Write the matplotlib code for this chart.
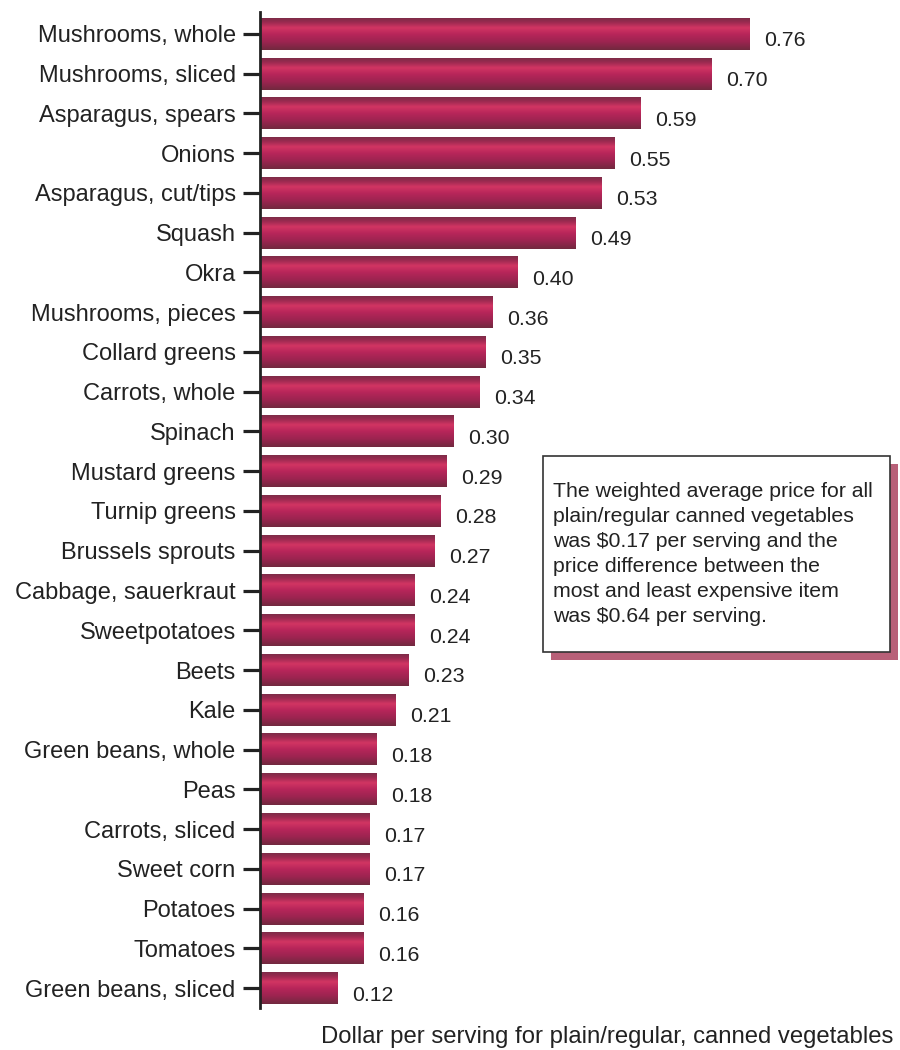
import matplotlib
matplotlib.use("Agg")
import matplotlib.pyplot as plt
import numpy as np
from matplotlib.colors import LinearSegmentedColormap
from matplotlib.patches import Rectangle

plt.rcParams['font.family'] = ['Liberation Sans', 'DejaVu Sans']

categories = ["Mushrooms, whole", "Mushrooms, sliced", "Asparagus, spears", "Onions",
              "Asparagus, cut/tips", "Squash", "Okra", "Mushrooms, pieces", "Collard greens",
              "Carrots, whole", "Spinach", "Mustard greens", "Turnip greens", "Brussels sprouts",
              "Cabbage, sauerkraut", "Sweetpotatoes", "Beets", "Kale", "Green beans, whole",
              "Peas", "Carrots, sliced", "Sweet corn", "Potatoes", "Tomatoes", "Green beans, sliced"]
values = [0.76, 0.70, 0.59, 0.55, 0.53, 0.49, 0.40, 0.36, 0.35, 0.34, 0.30, 0.29, 0.28,
          0.27, 0.24, 0.24, 0.23, 0.21, 0.18, 0.18, 0.17, 0.17, 0.16, 0.16, 0.12]
value_labels = ["0.76", "0.70", "0.59", "0.55", "0.53", "0.49", "0.40", "0.36", "0.35", "0.34",
                "0.30", "0.29", "0.28", "0.27", "0.24", "0.24", "0.23", "0.21", "0.18", "0.18",
                "0.17", "0.17", "0.16", "0.16", "0.12"]
xlabel = "Dollar per serving for plain/regular, canned vegetables"
note = ("The weighted average price for all\nplain/regular canned vegetables\n"
        "was $0.17 per serving and the\nprice difference between the\n"
        "most and least expensive item\nwas $0.64 per serving.")

fig = plt.figure(figsize=(9, 10.5), dpi=100)
ax = fig.add_axes([260/900, 1 - 1008/1050, 1 - 260/900, (1008 - 12)/1050])

y = np.arange(len(categories))
bars = ax.barh(y, values, height=0.8, color='none', edgecolor='none')

cmap = LinearSegmentedColormap.from_list('bar', [
    (0.0, '#7e2c48'), (0.12, '#9a2a50'), (0.3, '#d23563'), (0.5, '#b8265a'),
    (0.75, '#9c2450'), (1.0, '#72293f')])
grad = np.linspace(0, 1, 64).reshape(-1, 1)
for b in bars:
    x0, y0 = b.get_x(), b.get_y()
    w, h = b.get_width(), b.get_height()
    ax.imshow(grad, cmap=cmap, aspect='auto', extent=(x0, x0 + w, y0 + h, y0),
              interpolation='bilinear', zorder=2)

for yi, v, lab in zip(y, values, value_labels):
    ax.annotate(lab, xy=(v, yi), xytext=(10.5, -5), textcoords='offset points',
                ha='left', va='center', fontsize=15.3, color='#222222')

ax.set_xlim(0, 640/644.7)
ax.set_ylim(24.5, -0.55)
ax.set_yticks(y)
ax.set_yticklabels(categories, fontsize=17, color='#222222')
ax.set_xticks([])
for s in ['top', 'right', 'bottom']:
    ax.spines[s].set_visible(False)
ax.spines['left'].set_linewidth(2)
ax.spines['left'].set_color('#222222')
ax.tick_params(axis='y', length=12.5, width=2.3, color='#222222', pad=5, direction='out')

# note box with shadow
bx0, by0, bw, bh = 543/900, 1 - 652/1050, (890 - 543)/900, (652 - 456)/1050
sh = Rectangle((bx0 + 8/900, by0 - 8/1050), bw, bh, transform=fig.transFigure,
               facecolor='#b86078', edgecolor='none', zorder=5)
bx = Rectangle((bx0, by0), bw, bh, transform=fig.transFigure,
               facecolor='white', edgecolor='#333333', linewidth=1.2, zorder=6)
fig.add_artist(sh)
fig.add_artist(bx)
fig.text(553/900, 1 - 482/1050, note, ha='left', va='top', fontsize=15.3,
         color='#222222', linespacing=1.4, zorder=7)

fig.text(607/900, 1 - 1037/1050, xlabel, ha='center', va='center', fontsize=17.2,
         color='#222222')

fig.savefig('out.png', dpi=100)
